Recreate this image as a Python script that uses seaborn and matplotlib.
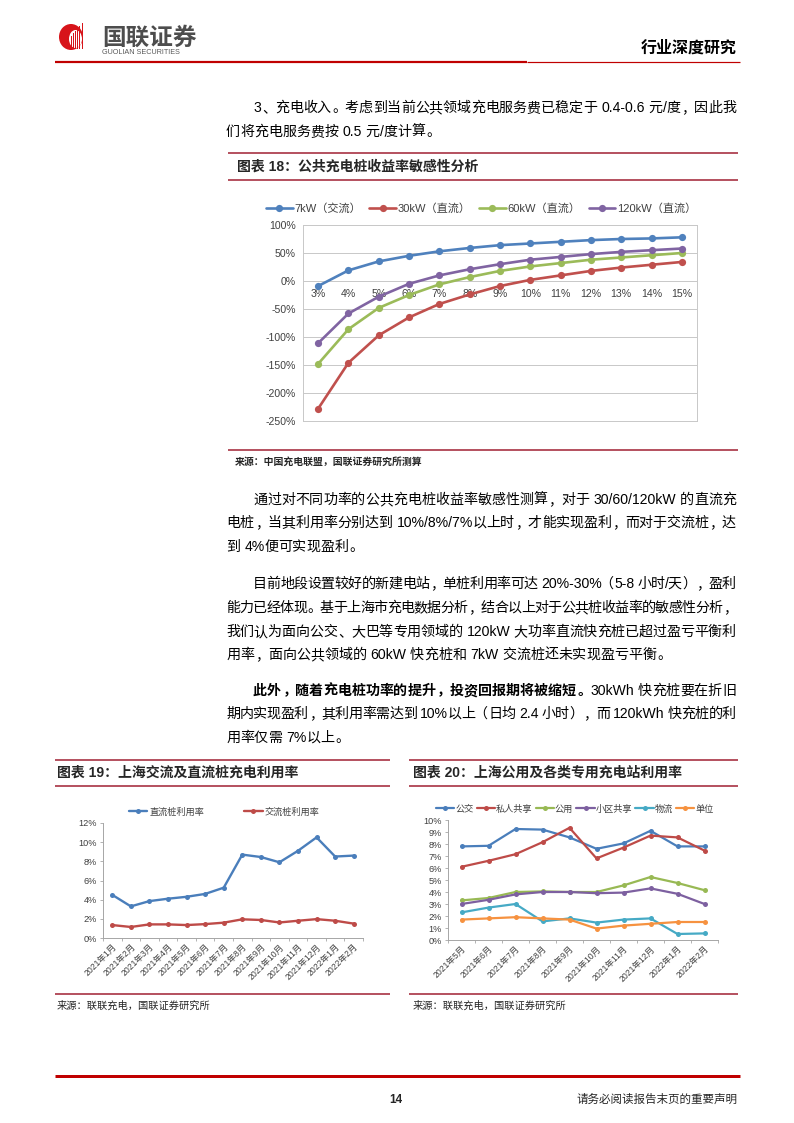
import re
import matplotlib
matplotlib.use('Agg')
import matplotlib.pyplot as plt
from matplotlib.lines import Line2D
from matplotlib.patches import Ellipse, Rectangle
import numpy as np
import pandas as pd
import seaborn as sns

# ---------------- data ----------------
util_labels = ['3%', '4%', '5%', '6%', '7%', '8%', '9%', '10%', '11%', '12%', '13%', '14%', '15%']
s18_names = ['7kW（交流）', '30kW（直流）', '60kW（直流）', '120kW（直流）']
v_7kw = [-9, 19, 35, 45, 53, 59, 64, 67, 70, 73, 75, 76, 78]
v_30kw = [-228, -146, -97, -65, -41, -24, -9, 2, 10, 18, 24, 29, 34]
v_60kw = [-148, -86, -48, -25, -6, 7, 18, 26, 32, 38, 42, 46, 50]
v_120kw = [-111, -58, -28, -5, 10, 21, 30, 38, 43, 48, 52, 55, 58]
y18_ticks = [-250, -200, -150, -100, -50, 0, 50, 100]

months19 = ['2021年1月', '2021年2月', '2021年3月', '2021年4月', '2021年5月', '2021年6月',
            '2021年7月', '2021年8月', '2021年9月', '2021年10月', '2021年11月', '2021年12月',
            '2022年1月', '2022年2月']
s19_names = ['直流桩利用率', '交流桩利用率']
dc_rate = [4.5, 3.3, 3.85, 4.1, 4.3, 4.6, 5.25, 8.7, 8.45, 7.9, 9.1, 10.5, 8.5, 8.6]
ac_rate = [1.35, 1.15, 1.42, 1.42, 1.35, 1.45, 1.6, 1.95, 1.88, 1.62, 1.8, 1.97, 1.8, 1.5]
y19_ticks = [0, 2, 4, 6, 8, 10, 12]

months20 = ['2021年5月', '2021年6月', '2021年7月', '2021年8月', '2021年9月', '2021年10月',
            '2021年11月', '2021年12月', '2022年1月', '2022年2月']
s20_names = ['公交', '私人共享', '公用', '小区共享', '物流', '单位']
bus = [7.8, 7.85, 9.25, 9.2, 8.55, 7.6, 8.05, 9.1, 7.8, 7.8]
private_share = [6.1, 6.6, 7.15, 8.15, 9.35, 6.8, 7.7, 8.7, 8.55, 7.45]
public_use = [3.3, 3.5, 4.0, 4.05, 4.0, 4.0, 4.55, 5.25, 4.75, 4.15]
community = [3.0, 3.35, 3.8, 4.0, 4.0, 3.9, 3.95, 4.3, 3.85, 3.0]
logistics = [2.3, 2.7, 3.0, 1.55, 1.8, 1.45, 1.7, 1.8, 0.5, 0.55]
unit_use = [1.7, 1.8, 1.9, 1.8, 1.7, 0.95, 1.2, 1.35, 1.5, 1.5]
y20_ticks = list(range(0, 11))

# ---------------- setup ----------------
W, H = 794, 1123
FAM = ['Liberation Sans', 'Noto Sans CJK SC']
sns.set_style('white')
plt.rcParams['font.family'] = FAM
plt.rcParams['axes.unicode_minus'] = False

fig = plt.figure(figsize=(W / 100, H / 100), dpi=100)
ov = fig.add_axes([0, 0, 1, 1], zorder=-1)
ov.set_xlim(0, W)
ov.set_ylim(H, 0)
ov.axis('off')
renderer = fig.canvas.get_renderer()

RED = '#C00000'
DRED = '#9E1C2E'
PX = 0.72  # points per pixel


def add_ax(x0, y0, x1, y1):
    return fig.add_axes([x0 / W, 1 - y1 / H, (x1 - x0) / W, (y1 - y0) / H])


def hline(x0, x1, y, color, lw_px):
    ov.plot([x0, x1], [y, y], color=color, lw=lw_px * PX, solid_capstyle='butt')


_cache = {}


def text_w(s, size, weight):
    key = (s, size, weight)
    if key not in _cache:
        t = ov.text(0, 0, s, fontsize=size, weight=weight, family=FAM)
        _cache[key] = t.get_window_extent(renderer).width
        t.remove()
    return _cache[key]


def adv(tok, size, weight):
    em = size * 100 / 72
    if tok == ' ':
        return 0.278 * em
    if ord(tok[0]) >= 0x2E80:
        return em
    return text_w('|' + tok + '|', size, weight) - text_w('||', size, weight)


def put_line(y, segs, x0, x1=736, justify=True, size=10.1):
    em = size * 100 / 72
    toks = []
    for s, w in segs:
        for t in re.findall(r'[A-Za-z0-9.%/\-]+| |.', s):
            toks.append((t, w))
    advs = [adv(t, size, w) for t, w in toks]
    gap = (x1 - x0 - sum(advs)) / (len(toks) - 1) if justify and len(toks) > 1 else 0
    base = y + 0.36 * em
    x = x0
    for (t, w), a in zip(toks, advs):
        kw = dict(fontsize=size, weight=w, va='baseline', family=FAM, color='black')
        if t != ' ':
            if ord(t[0]) >= 0x2E80:
                if t in '，。、：；':
                    ov.text(x + 0.08 * em, base, t, ha='left', **kw)
                elif t == '（':
                    ov.text(x + 0.92 * em, base, t, ha='right', **kw)
                elif t == '）':
                    ov.text(x + 0.08 * em, base, t, ha='left', **kw)
                else:
                    ov.text(x + a / 2, base, t, ha='center', **kw)
            else:
                ov.text(x + 0.03 * em, base, t, ha='left', **kw)
        x += a + gap


# ---------------- header ----------------
ov.add_patch(Ellipse((71, 37), 24, 26, color='#D7141A', lw=0))
ov.add_patch(Ellipse((75.5, 39), 13, 18, color='white', lw=0))
for i, bx in enumerate(np.arange(70.5, 83, 2.2)):
    top = 36 - i * 2.6
    ov.add_patch(Rectangle((bx, top), 1.1, 49 - top, color='#D7141A', lw=0))
ov.text(102, 38, '国联证券', fontsize=17, weight='bold', color='#4D4D4D', va='center', ha='left', family=FAM)
ov.text(102, 53, 'GUOLIAN SECURITIES', fontsize=5.2, color='#595959', va='center', ha='left', family=FAM)
ov.text(737, 48, '行业深度研究', fontsize=11.5, weight='bold', color='black', va='center', ha='right', family=FAM)
hline(55, 527, 62, RED, 2.2)
hline(527, 740, 62, RED, 1.2)

# ---------------- body text ----------------
put_line(107, [('3、充电收入。考虑到当前公共领域充电服务费已稳定于 0.4-0.6 元/度，因此我', 'normal')], 253)
put_line(131, [('们将充电服务费按 0.5 元/度计算。', 'normal')], 226, justify=False)

put_line(499, [('通过对不同功率的公共充电桩收益率敏感性测算，对于 30/60/120kW 的直流充', 'normal')], 253)
put_line(522, [('电桩，当其利用率分别达到 10%/8%/7%以上时，才能实现盈利，而对于交流桩，达', 'normal')], 226)
put_line(546, [('到 4%便可实现盈利。', 'normal')], 226, justify=False)

put_line(583, [('目前地段设置较好的新建电站，单桩利用率可达 20%-30%（5-8 小时/天），盈利', 'normal')], 253)
put_line(607, [('能力已经体现。基于上海市充电数据分析，结合以上对于公共桩收益率的敏感性分析，', 'normal')], 226)
put_line(631, [('我们认为面向公交、大巴等专用领域的 120kW 大功率直流快充桩已超过盈亏平衡利', 'normal')], 226)
put_line(654, [('用率，面向公共领域的 60kW 快充桩和 7kW 交流桩还未实现盈亏平衡。', 'normal')], 226, justify=False)

put_line(690, [('此外，随着充电桩功率的提升，投资回报期将被缩短。', 'bold'), ('30kWh 快充桩要在折旧', 'normal')], 253)
put_line(713, [('期内实现盈利，其利用率需达到 10%以上（日均 2.4 小时），而 120kWh 快充桩的利', 'normal')], 226)
put_line(737, [('用率仅需 7%以上。', 'normal')], 226, justify=False)

# ---------------- figure 18 frame ----------------
hline(228, 738, 153, DRED, 1.5)
hline(228, 738, 180, DRED, 1.5)
ov.text(237, 167, '图表 18：公共充电桩收益率敏感性分析', fontsize=10, weight='bold', va='center', ha='left', family=FAM)
hline(228, 738, 450, DRED, 1.5)
ov.text(235, 462, '来源：中国充电联盟，国联证券研究所测算', fontsize=7.1, weight='bold', va='center', ha='left', family=FAM)

pal18 = dict(zip(s18_names, ['#4F81BD', '#C0504D', '#9BBB59', '#8064A2']))
df18 = pd.DataFrame({
    '利用率': util_labels * 4,
    '收益率': v_7kw + v_30kw + v_60kw + v_120kw,
    '类型': np.repeat(s18_names, len(util_labels)),
})
ax18 = add_ax(303, 225, 697, 421)
sns.lineplot(data=df18, x='利用率', y='收益率', hue='类型', hue_order=s18_names, palette=pal18,
             marker='o', markersize=5.2, markeredgewidth=0, linewidth=1.9, sort=False,
             errorbar=None, legend=False, ax=ax18)
ax18.set_xlim(-0.5, len(util_labels) - 0.5)
ax18.set_ylim(y18_ticks[0], y18_ticks[-1])
ax18.set_yticks(y18_ticks, labels=[f'{v}%' for v in y18_ticks])
ax18.set_xticks(range(len(util_labels)), labels=util_labels)
ax18.set_xlabel('')
ax18.set_ylabel('')
ax18.set_axisbelow(True)
ax18.grid(axis='y', color='#C8C8C8', lw=0.7)
ax18.grid(axis='x', visible=False)
for sp in ax18.spines.values():
    sp.set_color('#C8C8C8')
    sp.set_linewidth(0.7)
h_px = 196
zero_from_bottom = (0 - y18_ticks[0]) / (y18_ticks[-1] - y18_ticks[0]) * h_px
ax18.tick_params(axis='y', length=0, pad=5, labelsize=7.6, labelcolor='#404040')
ax18.tick_params(axis='x', length=0, pad=-(zero_from_bottom - 8) * PX, labelsize=7.6, labelcolor='#404040')
h18 = [Line2D([0], [0], color=pal18[n], lw=1.9, marker='o', markersize=5.2, markeredgewidth=0) for n in s18_names]
fig.legend(h18, s18_names, loc='center left', bbox_to_anchor=(266 / W, 1 - 209 / H), ncol=4,
           frameon=False, fontsize=8, handlelength=2.4, handletextpad=0.15, columnspacing=0.75,
           borderaxespad=0, borderpad=0, labelcolor='#404040')

# ---------------- figure 19 ----------------
hline(55, 390, 760, DRED, 1.5)
hline(55, 390, 786, DRED, 1.5)
ov.text(57, 773, '图表 19：上海交流及直流桩充电利用率', fontsize=10, weight='bold', va='center', ha='left', family=FAM)
hline(55, 390, 994, DRED, 1.5)
ov.text(57, 1006, '来源：联联充电，国联证券研究所', fontsize=7.4, va='center', ha='left', family=FAM)

pal19 = dict(zip(s19_names, ['#4A7EBB', '#BE4B48']))
df19 = pd.DataFrame({
    '月份': months19 * 2,
    '利用率': dc_rate + ac_rate,
    '类型': np.repeat(s19_names, len(months19)),
})
ax19 = add_ax(103, 823, 363, 938)
sns.lineplot(data=df19, x='月份', y='利用率', hue='类型', hue_order=s19_names, palette=pal19,
             marker='o', markersize=3.6, markeredgewidth=0, linewidth=1.7, sort=False,
             errorbar=None, legend=False, ax=ax19)


def style_small(ax, cats, yticks):
    ax.set_xlim(-0.5, len(cats) - 0.5)
    ax.set_ylim(yticks[0], yticks[-1])
    ax.set_yticks(yticks, labels=[f'{v}%' for v in yticks])
    ax.set_xticks(range(len(cats)))
    ax.set_xticklabels(cats, rotation=45, ha='right', rotation_mode='anchor')
    ax.set_xticks(np.arange(-0.5, len(cats), 1), minor=True)
    ax.set_xlabel('')
    ax.set_ylabel('')
    ax.grid(False)
    ax.spines['top'].set_visible(False)
    ax.spines['right'].set_visible(False)
    for s in ('left', 'bottom'):
        ax.spines[s].set_color('#A6A6A6')
        ax.spines[s].set_linewidth(0.7)
    ax.tick_params(axis='y', which='major', direction='out', length=2.5, width=0.6, color='#A6A6A6',
                   pad=2, labelsize=6.6, labelcolor='#404040', left=True)
    ax.tick_params(axis='x', which='major', length=0, pad=3, labelsize=6.2, labelcolor='#404040')
    ax.tick_params(axis='x', which='minor', direction='out', length=2.5, width=0.6, color='#A6A6A6',
                   bottom=True)


style_small(ax19, months19, y19_ticks)
h19 = [Line2D([0], [0], color=pal19[n], lw=1.7, marker='o', markersize=3.6, markeredgewidth=0) for n in s19_names]
fig.legend(h19, s19_names, loc='center left', bbox_to_anchor=(129 / W, 1 - 812 / H), ncol=2,
           frameon=False, fontsize=6.6, handlelength=2.0, handletextpad=0.2, columnspacing=4.4,
           borderaxespad=0, borderpad=0, labelcolor='#404040')

# ---------------- figure 20 ----------------
hline(409, 738, 760, DRED, 1.5)
hline(409, 738, 786, DRED, 1.5)
ov.text(413, 773, '图表 20：上海公用及各类专用充电站利用率', fontsize=10, weight='bold', va='center', ha='left', family=FAM)
hline(409, 738, 994, DRED, 1.5)
ov.text(413, 1006, '来源：联联充电，国联证券研究所', fontsize=7.4, va='center', ha='left', family=FAM)

pal20 = dict(zip(s20_names, ['#4A7EBB', '#BE4B48', '#98B954', '#7D60A0', '#46AAC5', '#F69240']))
df20 = pd.DataFrame({
    '月份': months20 * 6,
    '利用率': bus + private_share + public_use + community + logistics + unit_use,
    '类型': np.repeat(s20_names, len(months20)),
})
ax20 = add_ax(448, 820, 718, 940)
sns.lineplot(data=df20, x='月份', y='利用率', hue='类型', hue_order=s20_names, palette=pal20,
             marker='o', markersize=3.6, markeredgewidth=0, linewidth=1.6, sort=False,
             errorbar=None, legend=False, ax=ax20)
style_small(ax20, months20, y20_ticks)
h20 = [Line2D([0], [0], color=pal20[n], lw=1.6, marker='o', markersize=3.6, markeredgewidth=0) for n in s20_names]
fig.legend(h20, s20_names, loc='center left', bbox_to_anchor=(436 / W, 1 - 809 / H), ncol=6,
           frameon=False, fontsize=6.6, handlelength=2.0, handletextpad=0.1, columnspacing=0.35,
           borderaxespad=0, borderpad=0, labelcolor='#404040')

# ---------------- footer ----------------
hline(55, 740, 1076, RED, 3)
ov.text(396, 1100, '14', fontsize=8.5, weight='bold', va='center', ha='center', family=FAM)
ov.text(737, 1100, '请务必阅读报告末页的重要声明', fontsize=8.3, va='center', ha='right', family=FAM)

fig.savefig('out.png', dpi=100)
